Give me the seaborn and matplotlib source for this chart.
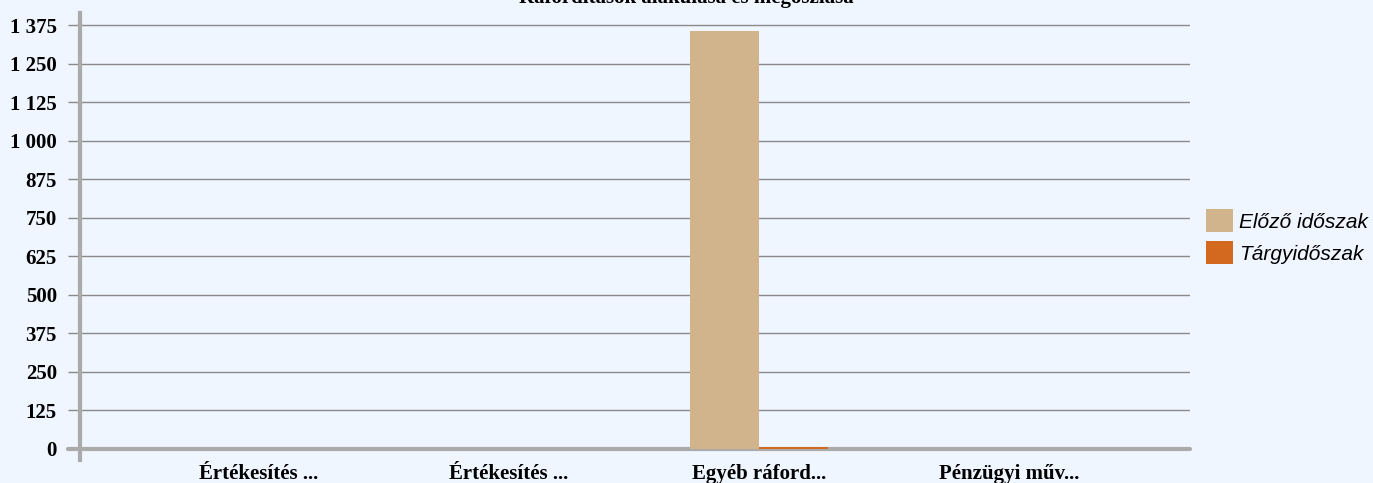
import pandas as pd
import seaborn as sns
import matplotlib.pyplot as plt
from matplotlib.ticker import FuncFormatter

# chart data
categories = ['Értékesítés ...', 'Értékesítés ...', 'Egyéb ráford...', 'Pénzügyi műv...']
cat_keys = ['c1', 'c2', 'c3', 'c4']
series = ['Előző időszak', 'Tárgyidőszak']
prev_values = [0, 0, 1355, 0]
curr_values = [0, 0, 7, 0]
title = 'Ráfordítások alakulása és megoszlása'

bg = '#EFF6FF'
colors = ['#D2B48C', '#D2691E']

df = pd.DataFrame({
    'cat': cat_keys * 2,
    'series': [series[0]] * 4 + [series[1]] * 4,
    'value': prev_values + curr_values,
})

sns.set_theme(style='white')
plt.rcParams['font.family'] = ['Liberation Serif', 'DejaVu Serif']

fig = plt.figure(figsize=(13.73, 4.83), dpi=100, facecolor=bg)
W, H = 1373, 483
ax = fig.add_axes([80 / W, 1 - 460 / H, 1110 / W, 447 / H], facecolor=bg)

sns.barplot(data=df, x='cat', y='value', hue='series', order=cat_keys,
            hue_order=series, palette=colors, width=0.55, saturation=1,
            edgecolor='none', ax=ax, zorder=3)
ax.get_legend().remove()

ax.set_xlim(-0.716, 3.724)
ax.set_ylim(-35.7, 1414)
ax.set_yticks([v for v in range(0, 1376, 125)])
ax.yaxis.set_major_formatter(FuncFormatter(lambda v, p: f'{int(v):,}'.replace(',', ' ')))
ax.set_xticks(range(4))
ax.set_xticklabels(categories)
ax.set_xlabel('')
ax.set_ylabel('')

ax.grid(axis='y', color='#8a8a8a', lw=1)
ax.set_axisbelow(True)
ax.tick_params(axis='y', length=8.6, width=1, color='#8a8a8a', pad=8,
               labelsize=15, left=True)
ax.tick_params(axis='x', length=0, pad=3, labelsize=15)
for lab in ax.get_xticklabels() + ax.get_yticklabels():
    lab.set_fontweight('bold')
    lab.set_color('black')

for s in ['top', 'right', 'bottom']:
    ax.spines[s].set_visible(False)
ax.spines['left'].set_color('#aaaaaa')
ax.spines['left'].set_linewidth(3)
ax.axhline(0, xmin=-0.011, xmax=1, color='#aaaaaa', lw=3, clip_on=False, zorder=2)

fig.text(0.5, 1.004, title, ha='center', va='center', fontsize=15,
         fontweight='bold', color='black')

handles, labels = ax.get_legend_handles_labels()
leg = fig.legend(handles, labels, loc='center left', bbox_to_anchor=(1206 / W, 0.51),
                 frameon=False, borderpad=0, borderaxespad=0,
                 handlelength=1.3, handleheight=1.3, handletextpad=0.3,
                 labelspacing=0.45,
                 prop={'family': ['Liberation Sans', 'DejaVu Sans'], 'style': 'italic', 'size': 15})
for t in leg.get_texts():
    t.set_color('black')

fig.savefig('out.png', dpi=100, facecolor=bg)
